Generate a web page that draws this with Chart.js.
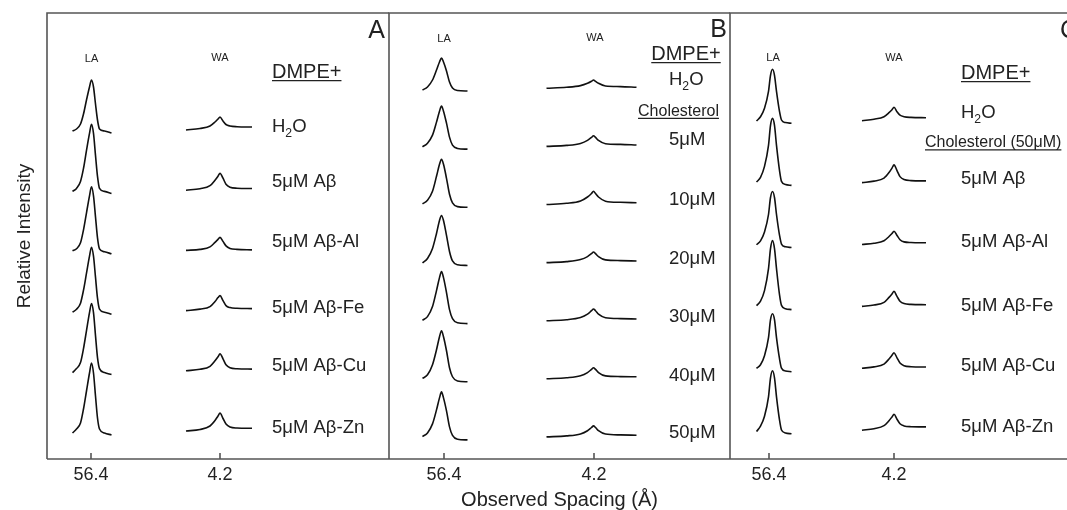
<!DOCTYPE html>
<html>
<head>
<meta charset="utf-8">
<script src="https://cdn.jsdelivr.net/npm/chart.js@4.4.1/dist/chart.umd.min.js"></script>
<style>
  html, body { margin: 0; padding: 0; background: #fff; }
  #wrap { position: relative; width: 1067px; height: 510px; overflow: hidden; }
  canvas { position: absolute; top: 0; }
</style>
</head>
<body>
<div id="wrap">
  <canvas id="panelA" width="392" height="510" style="left:0px"></canvas>
  <canvas id="panelB" width="346" height="510" style="left:385px"></canvas>
  <canvas id="panelC" width="341" height="510" style="left:726px"></canvas>
</div>
<script>
// tick labels shared by the three panels (broken spacing axis)
const tickLabels = ["56.4", "4.2"];
const peakNames = ["LA", "WA"];

// ---- panel A : DMPE + peptides ----
const rowsA = ["H_2O", "5μM Aβ", "5μM Aβ-Al", "5μM Aβ-Fe", "5μM Aβ-Cu", "5μM Aβ-Zn"];
const laDxA = [-19, -15, -11, -8, -5, -2, 0, 2, 4, 6, 8, 13, 20];
const laA = [
  [2, 4, 9, 19, 33, 46, 53, 46, 29, 13, 4, 2, 0],
  [2, 5, 12, 25, 43, 60, 69, 60, 38, 17, 5, 2, 0],
  [3, 5, 11, 24, 41, 58, 67, 58, 37, 16, 5, 2, 0],
  [2, 5, 11, 24, 41, 58, 67, 58, 37, 16, 5, 2, 0],
  [2, 6, 12, 26, 44, 62, 71, 62, 39, 17, 6, 2, 0],
  [2, 6, 12, 26, 44, 62, 72, 62, 39, 17, 6, 2, 0],
];
const waDxA = [-34, -20, -10, -5, -2, 0, 3, 6, 10, 17, 32];
const waA = [
  [0, 1.5, 4, 8, 11, 13, 9, 5.5, 4, 3.3, 3],
  [0, 1.5, 4.5, 10, 14, 17, 12, 6, 3, 2, 1.7],
  [0, 1, 3.5, 8, 11, 13, 9, 4.5, 2, 1, 0.5],
  [0, 1.5, 4, 9, 13, 15, 10, 5, 3, 2.3, 2],
  [0, 1.5, 4.5, 10, 14, 17, 12, 6, 3, 2, 1.7],
  [0, 1.5, 5, 10.5, 15, 18, 12.5, 7, 4, 3, 2.7],
];

// ---- panel B : DMPE + cholesterol ----
const rowsB = ["H_2O", "5μM", "10μM", "20μM", "30μM", "40μM", "50μM"];
const laDxB = [-19, -14, -9, -5, -2, 0, 2, 5, 8, 11, 16, 26];
const laB = [
  [1, 4, 11, 21, 29, 33, 29, 20, 9, 3, 0.5, 0],
  [2.3, 6, 14, 27, 38, 43, 38, 26, 12, 4, 0.7, 0],
  [3.5, 7, 16, 31, 43, 48, 43, 29, 13, 4.5, 0.7, 0],
  [2.5, 7, 17, 32, 45, 50, 45, 30, 14, 4.5, 0.7, 0],
  [3.3, 7, 17, 33, 46, 52, 46, 31, 14, 5, 0.8, 0],
  [3.3, 7, 17, 32, 45, 51, 45, 31, 14, 5, 0.8, 0],
  [3.3, 7, 16, 30, 42, 48, 42, 29, 13, 4.5, 0.7, 0],
];
const waDxB = [-47, -27, -13, -6, -2, 0, 2, 5, 12, 27, 43];
const waB = [
  [0, 1, 2.7, 5, 7, 8.3, 7, 5, 2.3, 1.7, 1],
  [0, 1, 3, 6, 9, 10.7, 9, 6, 2.7, 2, 1.4],
  [0, 1.2, 3.5, 7.5, 11, 13.3, 11, 7.5, 3.3, 2.2, 1.7],
  [0, 1, 3, 6, 9, 10.6, 9, 6, 2.7, 2, 1.6],
  [0, 1, 3.2, 6.5, 10, 11.7, 10, 6.5, 3, 2.1, 1.7],
  [0, 1, 3, 6.2, 9.4, 11, 9.4, 6.2, 2.9, 2.2, 2],
  [0, 1, 3, 6.2, 9.4, 11, 9.4, 6.2, 2.9, 2, 1.7],
];

// ---- panel C : DMPE + cholesterol (50μM) + peptides ----
const rowsC = ["H_2O", "5μM Aβ", "5μM Aβ-Al", "5μM Aβ-Fe", "5μM Aβ-Cu", "5μM Aβ-Zn"];
const laDxC = [-16, -12, -8, -4, -2, 0, 2, 4, 7, 9, 13, 19];
const laC = [
  [2.3, 6.5, 15, 32, 48, 54, 48, 32, 12, 3.3, 0.7, 0],
  [3.3, 8, 19, 40, 60, 67, 60, 40, 15, 4, 0.9, 0],
  [2.7, 6.7, 15.5, 33, 50, 56, 50, 33, 12.4, 3.4, 0.7, 0],
  [4, 8.5, 19, 41, 61, 69, 61, 41, 15, 4.2, 0.9, 0],
  [3.4, 7, 16, 34, 52, 58, 52, 34, 13, 3.5, 0.7, 0],
  [2.3, 7.6, 17.5, 37, 56, 63, 56, 37, 14, 3.8, 0.8, 0],
];
const waDxC = [-32, -20, -10, -5, -2, 0, 3, 6, 10, 17, 32];
const waC = [
  [0, 1.5, 4, 8, 11, 13.4, 9, 5.5, 4, 3.3, 3],
  [0, 1.5, 4.5, 10, 14.5, 17.7, 12, 6, 3, 2, 1.7],
  [0, 1.2, 3.8, 8, 11, 13.3, 9, 4.8, 2.6, 2, 1.7],
  [0, 1.4, 4, 9, 12.5, 15, 10, 5.2, 2.8, 2, 1.7],
  [0, 1.4, 4.2, 9.3, 13, 15.6, 10.5, 5.3, 2.6, 1.6, 1.3],
  [0, 1.5, 4.5, 9.5, 13.3, 16, 11, 6.5, 4.3, 3.5, 3.3],
];

Chart.defaults.font.family = "'Liberation Sans', Arial, sans-serif";
Chart.defaults.color = "#222";

const FONT = "'Liberation Sans', Arial, sans-serif";

// one dataset per stacked trace, row i shifted down by step
function traceSets(dx, rows, center, base, step) {
  return rows.map((vals, i) => ({
    data: dx.map((d, k) => ({ x: center + d, y: base - i * step + vals[k] })),
    borderColor: "#111",
    borderWidth: 1.6,
    pointRadius: 0,
    cubicInterpolationMode: "monotone",
    fill: false,
  }));
}

// text with "_x" meaning subscript x
function drawRich(ctx, text, x, y, size, align, underline) {
  const parts = text.split(/_(.)/);
  const sub = size * 0.66;
  let w = 0;
  parts.forEach((p, i) => {
    ctx.font = (i % 2 ? sub : size) + "px " + FONT;
    w += ctx.measureText(p).width;
  });
  let cx = align === "center" ? x - w / 2 : align === "right" ? x - w : x;
  const x0 = cx;
  ctx.textAlign = "left";
  ctx.textBaseline = "middle";
  parts.forEach((p, i) => {
    ctx.font = (i % 2 ? sub : size) + "px " + FONT;
    ctx.fillText(p, cx, i % 2 ? y + size * 0.38 : y);
    cx += ctx.measureText(p).width;
  });
  if (underline) {
    ctx.lineWidth = 1.3;
    ctx.strokeStyle = "#222";
    ctx.beginPath();
    ctx.moveTo(x0, y + size * 0.43);
    ctx.lineTo(x0 + w, y + size * 0.43);
    ctx.stroke();
  }
}

// panel frame: top, left and bottom lines plus short inward ticks
const framePlugin = {
  id: "frame",
  afterDraw(chart) {
    const { ctx, chartArea: a } = chart;
    const x = chart.scales.x;
    ctx.save();
    ctx.strokeStyle = "#555";
    ctx.lineWidth = 1.6;
    ctx.beginPath();
    ctx.moveTo(a.left, a.bottom);
    ctx.lineTo(a.left, a.top);
    ctx.lineTo(a.right, a.top);
    ctx.moveTo(a.left, a.bottom);
    ctx.lineTo(a.right, a.bottom);
    x.ticks.forEach((t) => {
      const px = x.getPixelForValue(t.value);
      ctx.moveTo(px, a.bottom);
      ctx.lineTo(px, a.bottom - 6);
    });
    ctx.stroke();
    ctx.restore();
  },
};

function notesPlugin(notes) {
  return {
    id: "notes",
    afterDraw(chart) {
      const { ctx, chartArea: a } = chart;
      ctx.save();
      ctx.fillStyle = "#222";
      notes.forEach((n) => drawRich(ctx, n.text, a.left + n.x, a.top + n.y, n.size, n.align || "left", n.underline));
      ctx.restore();
    },
  };
}

function makePanel(id, p) {
  const datasets = traceSets(p.laDx, p.la, p.laCenter, p.laBase, p.laStep)
    .concat(traceSets(p.waDx, p.wa, p.waCenter, p.waBase, p.waStep));
  return new Chart(document.getElementById(id), {
    type: "line",
    data: { datasets },
    options: {
      responsive: false,
      animation: false,
      devicePixelRatio: 1,
      layout: { padding: p.padding },
      plugins: { legend: { display: false }, tooltip: { enabled: false } },
      scales: {
        x: {
          type: "linear",
          min: 0,
          max: p.xMax,
          grid: { display: false, drawTicks: false },
          border: { display: false },
          afterBuildTicks: (s) => { s.ticks = p.ticks.map((v) => ({ value: v })); },
          afterFit: (s) => { s.height = 51; },
          ticks: {
            autoSkip: false,
            maxRotation: 0,
            padding: 5,
            color: "#222",
            font: { size: 18 },
            callback: (v, i) => tickLabels[i],
          },
          title: p.xTitle
            ? { display: true, text: p.xTitle, color: "#222", font: { size: 20, lineHeight: 1 }, padding: { top: 0, bottom: 0 } }
            : { display: false },
        },
        y: {
          display: !!p.yTitle,
          min: 0,
          max: 446,
          grid: { display: false, drawTicks: false },
          border: { display: false },
          ticks: { display: false },
          afterFit: (s) => { s.width = p.yTitle ? 47 : 0; },
          title: p.yTitle
            ? { display: true, text: p.yTitle, color: "#222", font: { size: 19, lineHeight: 1 }, padding: { top: 15, bottom: 0 } }
            : { display: false },
        },
      },
    },
    plugins: [framePlugin, notesPlugin(p.notes)],
  });
}

function rowNotes(rows, x, ys, size) {
  return rows.map((t, i) => ({ text: t, x: x, y: ys[i], size: size }));
}

makePanel("panelA", {
  padding: { left: 0, right: 3, top: 13, bottom: 0 },
  xMax: 342, ticks: [44, 173],
  laDx: laDxA, la: laA, laCenter: 44.5, laBase: 326, laStep: 60.4,
  waDx: waDxA, wa: waA, waCenter: 173, waBase: 329, waStep: 60.2,
  yTitle: "Relative Intensity",
  notes: [
    { text: "A", x: 338, y: 18.5, size: 25, align: "right" },
    { text: peakNames[0], x: 44.5, y: 46, size: 11, align: "center" },
    { text: peakNames[1], x: 173, y: 45, size: 11, align: "center" },
    { text: "DMPE+", x: 225, y: 59, size: 20, underline: true },
  ].concat(rowNotes(rowsA, 225, [114, 169, 229, 295, 353, 415], 18.5)),
});

makePanel("panelB", {
  padding: { left: 4, right: 1, top: 13, bottom: 0 },
  xMax: 341, ticks: [55, 205],
  laDx: laDxB, la: laB, laCenter: 52.5, laBase: 368, laStep: 58.15,
  waDx: waDxB, wa: waB, waCenter: 204.5, waBase: 370.7, waStep: 58.1,
  xTitle: "Observed Spacing (Å)",
  notes: [
    { text: "B", x: 338, y: 17.5, size: 25, align: "right" },
    { text: peakNames[0], x: 55, y: 26, size: 11, align: "center" },
    { text: peakNames[1], x: 206, y: 25, size: 11, align: "center" },
    { text: "DMPE+", x: 297, y: 41, size: 20, align: "center", underline: true },
    { text: "Cholesterol", x: 289.5, y: 98.5, size: 16, align: "center", underline: true },
  ].concat(rowNotes(rowsB, 280, [67, 127, 187, 246, 303.5, 362.5, 420], 18.5)),
});

makePanel("panelC", {
  padding: { left: 4, right: 0, top: 13, bottom: 0 },
  xMax: 337, ticks: [39, 164],
  laDx: laDxC, la: laC, laCenter: 42.5, laBase: 335.7, laStep: 62.1,
  waDx: waDxC, wa: waC, waCenter: 164, waBase: 338.3, waStep: 61.9,
  notes: [
    { text: "C", x: 330, y: 18, size: 25 },
    { text: peakNames[0], x: 43, y: 45, size: 11, align: "center" },
    { text: peakNames[1], x: 164, y: 45, size: 11, align: "center" },
    { text: "DMPE+", x: 231, y: 60, size: 20, underline: true },
    { text: "Cholesterol (50μM)", x: 195, y: 130, size: 16, underline: true },
  ].concat(rowNotes(rowsC, 231, [100, 166, 229, 293, 353, 414], 18.5)),
});
</script>
</body>
</html>
